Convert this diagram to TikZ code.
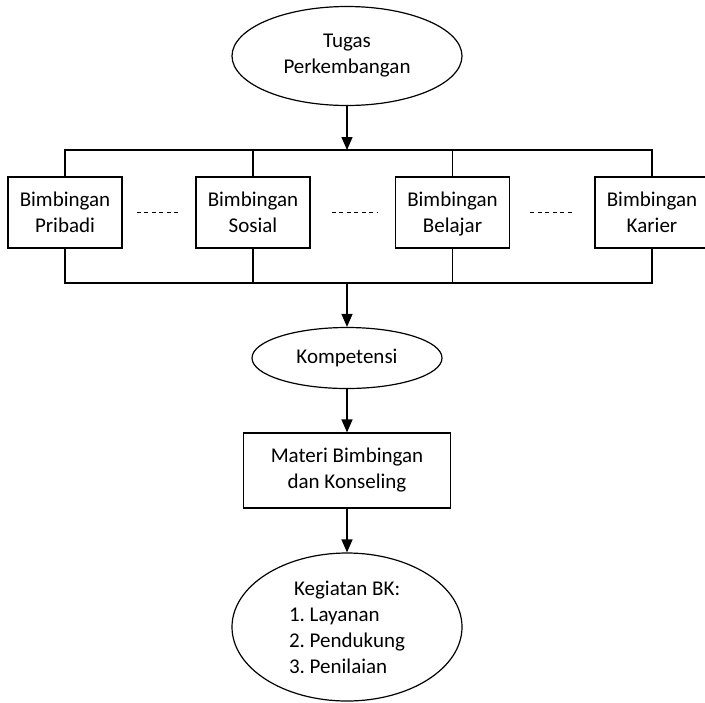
\documentclass[tikz,border=0pt]{standalone}
\usepackage{fontspec}
\setmainfont{Carlito}
\usetikzlibrary{positioning,arrows.meta,shapes.geometric}
\frenchspacing

\begin{document}
\begin{tikzpicture}[
  x=0.5pt, y=-0.5pt,
  line width=0.6pt,
  every node/.style={font=\fontsize{10.5}{13}\selectfont},
  oval/.style={ellipse, draw, inner sep=0pt, align=center},
  bimbingan/.style={rectangle, draw, minimum width=57pt, minimum height=35.5pt, align=center, text depth=0pt},
  materibox/.style={rectangle, draw, minimum width=103.5pt, minimum height=37.5pt, align=center},
  arrow/.style={-{Triangle[length=6.5pt, width=5.5pt]}},
  dots/.style={dash pattern=on 2pt off 1.75pt},
]
\clip (0,0) rectangle (705,702);

% Top ellipse
\node[oval, minimum width=115pt, minimum height=49.5pt] (tugas) at (347,56) {Tugas\\Perkembangan};

% Guidance boxes
\node[bimbingan] (pribadi) at (65,212.5) {Bimbingan\\Pribadi};
\node[bimbingan] (sosial) at (253,212.5) {Bimbingan\\Sosial};
\node[bimbingan] (belajar) at (452.5,212.5) {Bimbingan\\Belajar};
\node[bimbingan] (karier) at (652,212.5) {Bimbingan\\Karier};

% Lower column
\node[oval, minimum width=95pt, minimum height=30.5pt] (kompetensi) at (347,358) {Kompetensi};
\node[materibox] (materi) at (347,470.5) {Materi Bimbingan\\dan Konseling};
\node[oval, minimum width=115pt, minimum height=74pt, align=left] (kegiatan) at (347,627)
  {\hspace{2.5pt}Kegiatan BK:\\1. Layanan\\2. Pendukung\\3. Penilaian};

% Bus lines
\coordinate (atas) at (347,150);
\coordinate (bawah) at (347,283);
\draw (pribadi.north) -- (pribadi.north |- atas) -- (karier.north |- atas) -- (karier.north);
\draw (sosial.north) -- (sosial.north |- atas);
\draw (belajar.north) -- (belajar.north |- atas);
\draw (pribadi.south) -- (pribadi.south |- bawah) -- (karier.south |- bawah) -- (karier.south);
\draw (sosial.south) -- (sosial.south |- bawah);
\draw (belajar.south) -- (belajar.south |- bawah);

% Dashed links between boxes
\draw[dots, shorten <=7pt, shorten >=8pt] (pribadi.east) -- (sosial.west);
\draw[dots, shorten <=10.5pt, shorten >=9pt] (sosial.east) -- (belajar.west);
\draw[dots, shorten <=10pt, shorten >=10pt] (belajar.east) -- (karier.west);

% Arrows
\draw[arrow] (tugas) -- (atas);
\draw[arrow] (bawah) -- (kompetensi);
\draw[arrow] (kompetensi) -- (materi);
\draw[arrow] (materi) -- (kegiatan);
\end{tikzpicture}
\end{document}
